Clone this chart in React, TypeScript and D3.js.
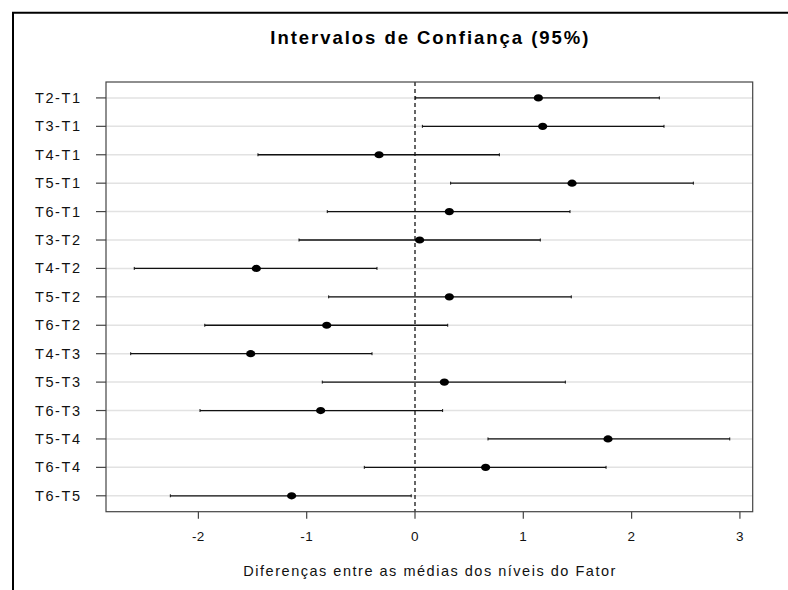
import React from "react";
import * as d3 from "d3";

// Pairwise comparisons (Tukey-style), top to bottom
const comparisons = [
  "T2-T1", "T3-T1", "T4-T1", "T5-T1", "T6-T1",
  "T3-T2", "T4-T2", "T5-T2", "T6-T2",
  "T4-T3", "T5-T3", "T6-T3",
  "T5-T4", "T6-T4",
  "T6-T5",
];
const estimates = [1.139, 1.179, -0.332, 1.45, 0.317, 0.043, -1.465, 0.317, -0.815, -1.517, 0.271, -0.871, 1.782, 0.652, -1.139];
const lowerBounds = [0.006, 0.068, -1.45, 0.329, -0.81, -1.071, -2.592, -0.797, -1.941, -2.625, -0.856, -1.985, 0.674, -0.468, -2.259];
const upperBounds = [2.256, 2.299, 0.779, 2.57, 1.431, 1.157, -0.351, 1.443, 0.302, -0.397, 1.388, 0.255, 2.906, 1.764, -0.035];
const xTicks = [-2, -1, 0, 1, 2, 3];

const title = "Intervalos de Confiança (95%)";
const xTitle = "Diferenças entre as médias dos níveis do Fator";

const W = 788;
const H = 590;
const plot = { left: 106, right: 752.7, top: 82, bottom: 511.7 };
const FONT = "'Liberation Sans', Arial, sans-serif";

export default function App() {
  const x = d3.scaleLinear().domain([-2.853, 3.118]).range([plot.left, plot.right]);
  const n = comparisons.length;
  const y = d3
    .scaleLinear()
    .domain([-0.56, n - 1 + 0.56])
    .range([plot.top, plot.bottom]);

  return (
    <svg
      width={W}
      height={H}
      style={{ position: "absolute", left: 0, top: 0, background: "#fff" }}
      fontFamily={FONT}
    >
      <rect x={0} y={0} width={W} height={H} fill="#fff" />
      {/* outer frame */}
      <line x1={12} x2={W} y1={12.8} y2={12.8} stroke="#000" strokeWidth={2} />
      <line x1={13} x2={13} y1={12} y2={H} stroke="#000" strokeWidth={2} />

      {/* title */}
      <text
        x={(plot.left + plot.right) / 2}
        y={44}
        textAnchor="middle"
        fontSize={18.5}
        fontWeight="bold"
        fill="#000"
        textLength={318}
        lengthAdjust="spacing"
      >
        {title}
      </text>

      {/* horizontal grid lines */}
      {comparisons.map((c, i) => (
        <line
          key={"g" + c}
          x1={plot.left}
          x2={plot.right}
          y1={y(i)}
          y2={y(i)}
          stroke="#e2e2e2"
          strokeWidth={1.5}
        />
      ))}

      {/* reference line at zero */}
      <line
        x1={x(0)}
        x2={x(0)}
        y1={plot.top}
        y2={plot.bottom}
        stroke="#000"
        strokeWidth={1.2}
        strokeDasharray="4,3"
      />

      {/* confidence intervals */}
      {comparisons.map((c, i) => {
        const yy = y(i);
        return (
          <g key={"ci" + c}>
            <line x1={x(lowerBounds[i])} x2={x(upperBounds[i])} y1={yy} y2={yy} stroke="#111" strokeWidth={1.3} />
            <line x1={x(lowerBounds[i])} x2={x(lowerBounds[i])} y1={yy - 1.5} y2={yy + 1.5} stroke="#111" strokeWidth={1} />
            <line x1={x(upperBounds[i])} x2={x(upperBounds[i])} y1={yy - 1.5} y2={yy + 1.5} stroke="#111" strokeWidth={1} />
            <ellipse cx={x(estimates[i])} cy={yy} rx={4.6} ry={3.6} fill="#000" />
          </g>
        );
      })}

      {/* plot box */}
      <rect
        x={plot.left}
        y={plot.top}
        width={plot.right - plot.left}
        height={plot.bottom - plot.top}
        fill="none"
        stroke="#444"
        strokeWidth={1.2}
      />

      {/* y axis ticks and labels */}
      {comparisons.map((c, i) => (
        <g key={"y" + c}>
          <line x1={plot.left - 10} x2={plot.left} y1={y(i)} y2={y(i)} stroke="#444" strokeWidth={1.2} />
          <text
            x={80}
            y={y(i) + 5}
            textAnchor="end"
            fontSize={14.5}
            fill="#111"
            textLength={45}
            lengthAdjust="spacing"
          >
            {c}
          </text>
        </g>
      ))}

      {/* x axis ticks and labels */}
      {xTicks.map((t) => (
        <g key={"x" + t}>
          <line x1={x(t)} x2={x(t)} y1={plot.bottom} y2={plot.bottom + 7} stroke="#444" strokeWidth={1.2} />
          <text x={x(t)} y={540.5} textAnchor="middle" fontSize={13.5} fill="#111" letterSpacing={0.5}>
            {t}
          </text>
        </g>
      ))}

      {/* x axis title */}
      <text
        x={(plot.left + plot.right) / 2}
        y={576}
        textAnchor="middle"
        fontSize={14.5}
        fill="#111"
        textLength={372}
        lengthAdjust="spacing"
      >
        {xTitle}
      </text>
    </svg>
  );
}
